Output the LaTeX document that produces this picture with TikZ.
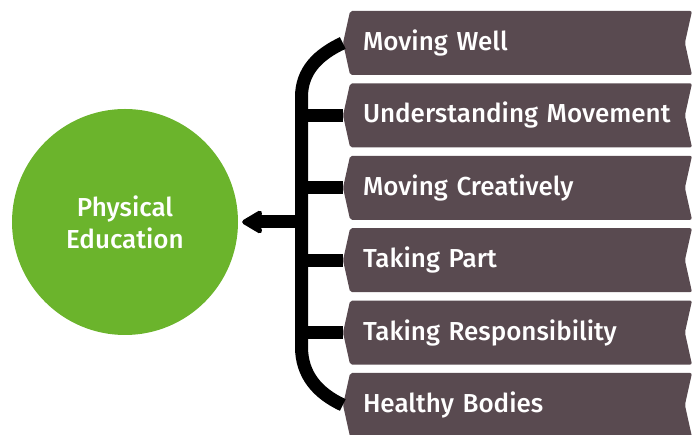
\documentclass[tikz,border=0pt]{standalone}
\usepackage{fontspec}
\setmainfont{Fira Sans}[UprightFont=* Medium]
\usetikzlibrary{shapes.symbols,arrows.meta}
\definecolor{boxgrey}{RGB}{89,74,80}
\definecolor{pegreen}{RGB}{107,180,44}
\tikzset{
  strand/.style={shape=signal,signal to=west,signal from=east,signal pointer angle=155,
    fill=boxgrey,text=white,minimum width=349pt,minimum height=64pt,text width=309pt,
    align=left,inner xsep=0pt,rounded corners=2pt,font=\fontsize{26}{30}\selectfont},
  bar/.style={line width=13pt}
}
\begin{document}
\begin{tikzpicture}[x=1pt,y=1pt]
      \useasboundingbox (0,0) rectangle (700,435);
      \node[circle,fill=pegreen,minimum size=226pt,text=white,align=center,
        font=\fontsize{26}{32}\selectfont] (pe) at (125,213) {Physical\\Education};
      \coordinate (bartop) at (301.5,338);
      \coordinate (barbot) at (301.5,88);
      \node[strand] (m1) at (517.5,392) {Moving Well};
      \node[strand] (m2) at (517.5,319.6) {Understanding Movement};
      \node[strand] (m3) at (517.5,247.2) {Moving Creatively};
      \node[strand] (m4) at (517.5,174.8) {Taking Part};
      \node[strand] (m5) at (517.5,102.4) {Taking Responsibility};
      \node[strand] (m6) at (517.5,30) {Healthy Bodies};
      \draw[bar] (m1.west) to[out=205,in=90] (bartop) -- (barbot) to[out=-90,in=155] (m6.west);
      \draw[bar] (m2.west) -- (m2.west -| bartop);
      \draw[bar] (m3.west) -- (m3.west -| bartop);
      \draw[bar] (m4.west) -- (m4.west -| bartop);
      \draw[bar] (m5.west) -- (m5.west -| bartop);
      \draw[bar,-{Stealth[length=24pt,width=28pt,inset=5pt,round]},shorten >=4pt] (pe.east -| bartop) -- (pe.east);
\end{tikzpicture}
\end{document}
